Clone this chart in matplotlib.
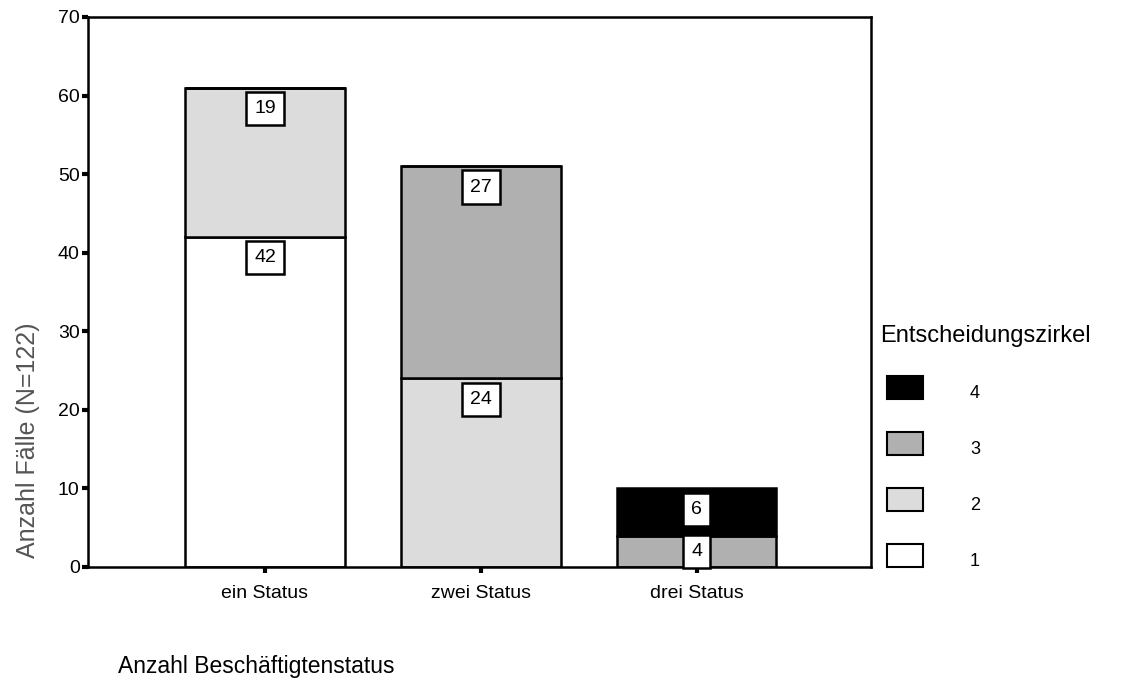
import numpy as np
import matplotlib.pyplot as plt
from matplotlib.patches import Rectangle

# Anzahl Fälle je Beschäftigtenstatus, gestapelt nach Entscheidungszirkel
kategorien = ['ein Status', 'zwei Status', 'drei Status']
zirkel = ['1', '2', '3', '4']
werte = {
    '1': [42, 0, 0],
    '2': [19, 24, 0],
    '3': [0, 27, 4],
    '4': [0, 0, 6],
}
farben = {'1': '#ffffff', '2': '#dcdcdc', '3': '#b0b0b0', '4': '#000000'}

plt.rcParams['font.family'] = ['Liberation Sans', 'DejaVu Sans']

fig = plt.figure(figsize=(11.24, 6.79), dpi=100)
ax = fig.add_axes([0.0783, 0.165, 0.697, 0.810])

x = np.arange(len(kategorien))
unten = np.zeros(len(kategorien))
for z in zirkel:
    h = np.array(werte[z], dtype=float)
    ax.bar(x, h, 0.74, bottom=unten, color=farben[z], edgecolor='black',
           linewidth=1.8, zorder=2)
    for i, v in enumerate(h):
        if v > 0:
            oben = unten[i] + v
            ax.text(x[i], oben - 2.65 if v > 5 else unten[i] + v / 2, f'{int(v)}',
                    ha='center', va='center', fontsize=14, zorder=4,
                    bbox=dict(boxstyle='square,pad=0.42', fc='white',
                              ec='black', lw=1.8))
    unten += h

ax.set_xlim(-0.82, 2.81)
ax.set_ylim(0, 70)
ax.set_yticks(range(0, 71, 10))
ax.set_xticks(x)
ax.set_xticklabels(kategorien)
ax.tick_params(axis='both', direction='out', length=4, width=3, labelsize=14, pad=2)
ax.tick_params(axis='x', pad=9)
for s in ax.spines.values():
    s.set_linewidth(1.8)

fig.text(28 / 1124, 1 - 440 / 679, 'Anzahl Fälle (N=122)', fontsize=18,
         color='#555555', rotation=90, ha='center', va='center')
fig.text(118 / 1124, 1 - 667 / 679, 'Anzahl Beschäftigtenstatus', fontsize=16.5,
         ha='left', va='center')

# Legende
fig.text(880 / 1124, 1 - 336 / 679, 'Entscheidungszirkel', fontsize=17,
         ha='left', va='center')
leg_y = {'4': 388, '3': 444, '2': 500, '1': 556}
for z in zirkel:
    y = leg_y[z]
    fig.add_artist(Rectangle((887 / 1124, 1 - (y + 11) / 679), 36 / 1124, 23 / 679,
                             transform=fig.transFigure, facecolor=farben[z],
                             edgecolor='black', linewidth=1.5))
    fig.text(975 / 1124, 1 - (y + 5) / 679, z, fontsize=13, ha='center', va='center')

fig.savefig('out.png', dpi=100)
